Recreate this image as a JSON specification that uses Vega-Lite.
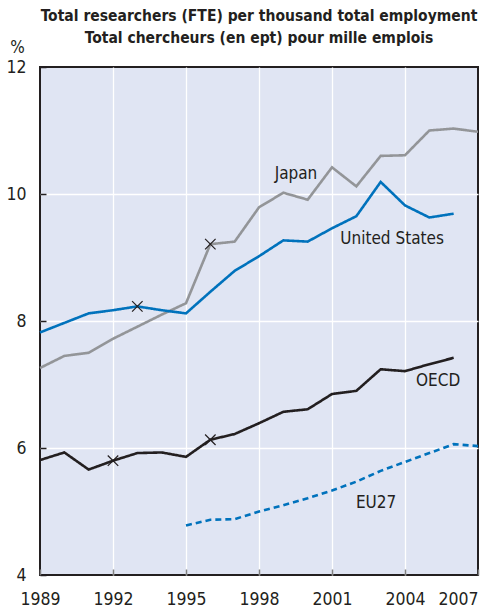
{
  "$schema": "https://vega.github.io/schema/vega-lite/v6.json",
  "width": 438,
  "height": 508,
  "autosize": {"type": "none"},
  "padding": {"left": 40, "top": 67, "right": 6, "bottom": 36},
  "background": "white",
  "title": {
    "text": ["Total researchers (FTE) per thousand total employment", "Total chercheurs (en ept) pour mille emplois"],
    "font": "DejaVu Sans Condensed",
    "fontSize": 15.5,
    "fontWeight": "bold",
    "color": "#231f20",
    "anchor": "middle",
    "frame": "group",
    "lineHeight": 21.5,
    "offset": 21,
    "dy": 29
  },
  "datasets": {
    "series": [
      {"series": "Japan", "year": 1989, "value": 7.26},
      {"series": "Japan", "year": 1990, "value": 7.45},
      {"series": "Japan", "year": 1991, "value": 7.50},
      {"series": "Japan", "year": 1992, "value": 7.72},
      {"series": "Japan", "year": 1993, "value": 7.91},
      {"series": "Japan", "year": 1994, "value": 8.10},
      {"series": "Japan", "year": 1995, "value": 8.28},
      {"series": "Japan", "year": 1996, "value": 9.21},
      {"series": "Japan", "year": 1997, "value": 9.25},
      {"series": "Japan", "year": 1998, "value": 9.79},
      {"series": "Japan", "year": 1999, "value": 10.02},
      {"series": "Japan", "year": 2000, "value": 9.91},
      {"series": "Japan", "year": 2001, "value": 10.42},
      {"series": "Japan", "year": 2002, "value": 10.12},
      {"series": "Japan", "year": 2003, "value": 10.60},
      {"series": "Japan", "year": 2004, "value": 10.61},
      {"series": "Japan", "year": 2005, "value": 11.00},
      {"series": "Japan", "year": 2006, "value": 11.03},
      {"series": "Japan", "year": 2007, "value": 10.98},
      {"series": "United States", "year": 1989, "value": 7.82},
      {"series": "United States", "year": 1990, "value": 7.97},
      {"series": "United States", "year": 1991, "value": 8.12},
      {"series": "United States", "year": 1992, "value": 8.17},
      {"series": "United States", "year": 1993, "value": 8.23},
      {"series": "United States", "year": 1994, "value": 8.17},
      {"series": "United States", "year": 1995, "value": 8.12},
      {"series": "United States", "year": 1996, "value": 8.46},
      {"series": "United States", "year": 1997, "value": 8.79},
      {"series": "United States", "year": 1998, "value": 9.02},
      {"series": "United States", "year": 1999, "value": 9.27},
      {"series": "United States", "year": 2000, "value": 9.25},
      {"series": "United States", "year": 2001, "value": 9.46},
      {"series": "United States", "year": 2002, "value": 9.65},
      {"series": "United States", "year": 2003, "value": 10.19},
      {"series": "United States", "year": 2004, "value": 9.82},
      {"series": "United States", "year": 2005, "value": 9.63},
      {"series": "United States", "year": 2006, "value": 9.69},
      {"series": "OECD", "year": 1989, "value": 5.81},
      {"series": "OECD", "year": 1990, "value": 5.93},
      {"series": "OECD", "year": 1991, "value": 5.66},
      {"series": "OECD", "year": 1992, "value": 5.80},
      {"series": "OECD", "year": 1993, "value": 5.92},
      {"series": "OECD", "year": 1994, "value": 5.93},
      {"series": "OECD", "year": 1995, "value": 5.86},
      {"series": "OECD", "year": 1996, "value": 6.13},
      {"series": "OECD", "year": 1997, "value": 6.22},
      {"series": "OECD", "year": 1998, "value": 6.39},
      {"series": "OECD", "year": 1999, "value": 6.57},
      {"series": "OECD", "year": 2000, "value": 6.61},
      {"series": "OECD", "year": 2001, "value": 6.85},
      {"series": "OECD", "year": 2002, "value": 6.90},
      {"series": "OECD", "year": 2003, "value": 7.24},
      {"series": "OECD", "year": 2004, "value": 7.21},
      {"series": "OECD", "year": 2005, "value": 7.32},
      {"series": "OECD", "year": 2006, "value": 7.42},
      {"series": "EU27", "year": 1995, "value": 4.78},
      {"series": "EU27", "year": 1996, "value": 4.87},
      {"series": "EU27", "year": 1997, "value": 4.88},
      {"series": "EU27", "year": 1998, "value": 5.00},
      {"series": "EU27", "year": 1999, "value": 5.10},
      {"series": "EU27", "year": 2000, "value": 5.21},
      {"series": "EU27", "year": 2001, "value": 5.33},
      {"series": "EU27", "year": 2002, "value": 5.47},
      {"series": "EU27", "year": 2003, "value": 5.64},
      {"series": "EU27", "year": 2004, "value": 5.78},
      {"series": "EU27", "year": 2005, "value": 5.92},
      {"series": "EU27", "year": 2006, "value": 6.06},
      {"series": "EU27", "year": 2007, "value": 6.03}
    ],
    "breaks": [
      {"series": "United States", "year": 1993, "value": 8.23},
      {"series": "Japan", "year": 1996, "value": 9.21},
      {"series": "OECD", "year": 1992, "value": 5.80},
      {"series": "OECD", "year": 1996, "value": 6.13}
    ],
    "labels": [
      {"label": "Japan", "year": 1999.52, "value": 10.31},
      {"label": "United States", "year": 2003.47, "value": 9.29},
      {"label": "OECD", "year": 2005.36, "value": 7.06},
      {"label": "EU27", "year": 2002.81, "value": 5.13}
    ]
  },
  "encoding": {
    "x": {
      "field": "year",
      "type": "quantitative",
      "scale": {"domain": [1989, 2007], "nice": false, "zero": false},
      "axis": {
        "title": null,
        "values": [1989, 1992, 1995, 1998, 2001, 2004, 2007],
        "format": "d",
        "domain": false,
        "tickSize": -6,
        "tickColor": "#808080",
        "tickWidth": 1.5,
        "labelPadding": 21,
        "labelAlign": {"condition": {"test": "datum.value == 2007", "value": "right"}, "value": "center"},
        "gridColor": {"condition": {"test": "datum.value == 1989 || datum.value == 2007", "value": "transparent"}, "value": "#ffffff"}
      }
    },
    "y": {
      "field": "value",
      "type": "quantitative",
      "scale": {"domain": [4, 12], "nice": false, "zero": false},
      "axis": {
        "title": "%",
        "titleAngle": 0,
        "titleX": -23,
        "titleY": -20,
        "titleAlign": "center",
        "titleBaseline": "middle",
        "values": [4, 6, 8, 10, 12],
        "domain": false,
        "tickSize": -6,
        "tickColor": "#231f20",
        "tickWidth": 1.5,
        "labelPadding": 20,
        "gridColor": {"condition": {"test": "datum.value == 4 || datum.value == 12", "value": "transparent"}, "value": "#ffffff"}
      }
    }
  },
  "layer": [
    {
      "data": {"name": "series"},
      "mark": {"type": "line", "strokeWidth": 2.6, "strokeCap": "butt"},
      "encoding": {
        "color": {
          "field": "series",
          "type": "nominal",
          "scale": {"domain": ["EU27", "OECD", "Japan", "United States"], "range": ["#0072bc", "#231f20", "#939598", "#0072bc"]},
          "legend": null
        },
        "strokeDash": {
          "field": "series",
          "type": "nominal",
          "scale": {"domain": ["EU27", "OECD", "Japan", "United States"], "range": [[6, 4], [1, 0], [1, 0], [1, 0]]},
          "legend": null
        }
      }
    },
    {
      "data": {"name": "breaks"},
      "mark": {"type": "point", "shape": "M-1,-1L1,1M-1,1L1,-1", "filled": false, "size": 110, "stroke": "#231f20", "strokeWidth": 1.2, "opacity": 1}
    },
    {
      "data": {"name": "labels"},
      "mark": {"type": "text", "font": "DejaVu Sans Condensed", "fontSize": 17, "color": "#231f20", "align": "center", "baseline": "middle"},
      "encoding": {"text": {"field": "label", "type": "nominal"}}
    }
  ],
  "config": {
    "view": {"fill": "#e0e5f3", "stroke": "#231f20", "strokeWidth": 2},
    "axis": {
      "labelFont": "DejaVu Sans Condensed",
      "labelFontSize": 17.5,
      "labelColor": "#231f20",
      "titleFont": "DejaVu Sans Condensed",
      "titleFontSize": 17,
      "titleFontWeight": "normal",
      "titleColor": "#231f20",
      "gridWidth": 1.3
    }
  }
}
